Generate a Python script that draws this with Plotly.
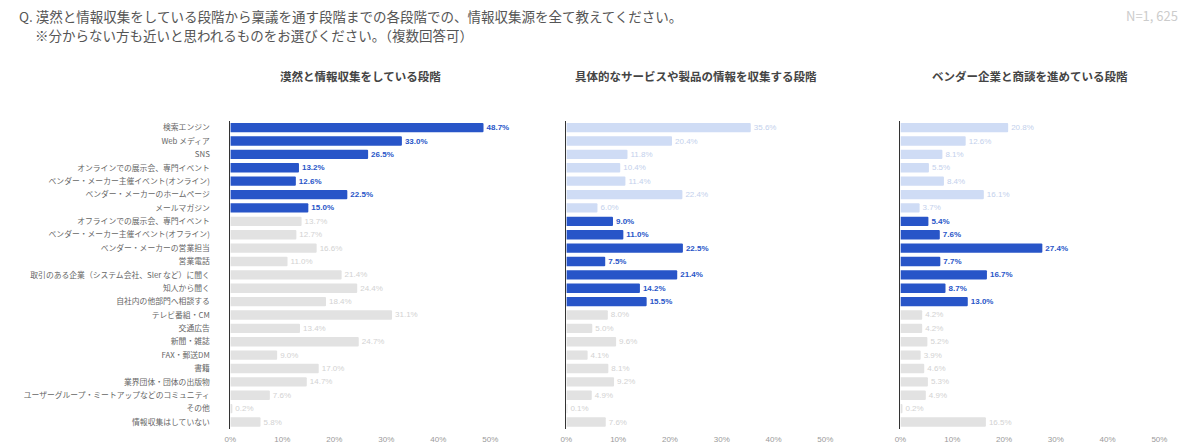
import plotly.graph_objects as go

categories = [
    "検索エンジン", "Web メディア", "SNS", "オンラインでの展示会、専門イベント",
    "ベンダー・メーカー主催イベント(オンライン)", "ベンダー・メーカーのホームページ", "メールマガジン",
    "オフラインでの展示会、専門イベント", "ベンダー・メーカー主催イベント(オフライン)",
    "ベンダー・メーカーの営業担当", "営業電話", "取引のある企業（システム会社、Sler など）に聞く",
    "知人から聞く", "自社内の他部門へ相談する", "テレビ番組・CM", "交通広告", "新聞・雑誌",
    "FAX・郵送DM", "書籍", "業界団体・団体の出版物", "ユーザーグループ・ミートアップなどのコミュニティ",
    "その他", "情報収集はしていない",
]
groups = [0]*7 + [1]*7 + [2]*9

stage_titles = [
    "漠然と情報収集をしている段階",
    "具体的なサービスや製品の情報を収集する段階",
    "ベンダー企業と商談を進めている段階",
]
stage1 = [48.7, 33.0, 26.5, 13.2, 12.6, 22.5, 15.0, 13.7, 12.7, 16.6, 11.0, 21.4,
          24.4, 18.4, 31.1, 13.4, 24.7, 9.0, 17.0, 14.7, 7.6, 0.2, 5.8]
stage2 = [35.6, 20.4, 11.8, 10.4, 11.4, 22.4, 6.0, 9.0, 11.0, 22.5, 7.5, 21.4,
          14.2, 15.5, 8.0, 5.0, 9.6, 4.1, 8.1, 9.2, 4.9, 0.1, 7.6]
stage3 = [20.8, 12.6, 8.1, 5.5, 8.4, 16.1, 3.7, 5.4, 7.6, 27.4, 7.7, 16.7,
          8.7, 13.0, 4.2, 4.2, 5.2, 3.9, 4.6, 5.3, 4.9, 0.2, 16.5]
highlight_group = [0, 1, 1]
tint_groups = [[], [0], [0]]
x_ticks = [0, 10, 20, 30, 40, 50]
x_ticklabels = ["0%", "10%", "20%", "30%", "40%", "50%"]

BLUE = "#2855c8"
TINT = "#cfdcf5"
GRAY = "#e2e2e2"
TINT_TXT = "#c3d0ec"
GRAY_TXT = "#d2d2d2"
FONT = "Noto Sans CJK JP"

W = 1200
domains = [(227/W, 490/W), (567/W, 829/W), (905/W, 1167/W)]
series = [stage1, stage2, stage3]

fig = go.Figure()
for i, vals in enumerate(series):
    bar_colors, txt_colors, texts = [], [], []
    for v, g in zip(vals, groups):
        if g == highlight_group[i]:
            bar_colors.append(BLUE); txt_colors.append(BLUE)
            texts.append(f"<b>{v:.1f}%</b>")
        elif g in tint_groups[i]:
            bar_colors.append(TINT); txt_colors.append(TINT_TXT)
            texts.append(f"{v:.1f}%")
        else:
            bar_colors.append(GRAY); txt_colors.append(GRAY_TXT)
            texts.append(f"{v:.1f}%")
    ax = "" if i == 0 else str(i + 1)
    fig.add_trace(go.Bar(
        x=vals, y=categories, orientation="h",
        marker=dict(color=bar_colors, line=dict(width=0)),
        text=texts, textposition="outside", cliponaxis=False,
        textfont=dict(color=txt_colors, size=8, family="Liberation Sans, Arial"),
        xaxis="x" + ax, yaxis="y" + ax, showlegend=False, hoverinfo="skip",
    ))
    xa = dict(domain=list(domains[i]), range=[0, 50], tickvals=x_ticks,
              ticktext=x_ticklabels, showgrid=False, zeroline=False,
              showline=False, ticks="", tickfont=dict(size=8, color="#9a9a9a",
              family="Liberation Sans, Arial"), anchor="y" + ax, fixedrange=True,
              ticklabelstandoff=4)
    ya = dict(domain=[0.043, 0.73], autorange="reversed", showgrid=False,
              showline=True, linecolor="#333333", linewidth=1,
              ticks="", showticklabels=(i == 0), anchor="x" + ax,
              tickfont=dict(size=7.8, color="#666666", family=FONT),
              ticklabelstandoff=18 if i == 0 else 0, fixedrange=True)
    fig.layout["xaxis" + ax] = xa
    fig.layout["yaxis" + ax] = ya
    fig.add_annotation(text=f"<b>{stage_titles[i]}</b>", xref="paper", yref="paper",
                       x=(domains[i][0] + domains[i][1]) / 2, y=1 - 76/448,
                       xanchor="center", yanchor="middle", showarrow=False,
                       font=dict(size=11.5, color="#444444", family=FONT))

fig.add_annotation(text="Q. 漠然と情報収集をしている段階から稟議を通す段階までの各段階での、情報収集源を全て教えてください。",
                   xref="paper", yref="paper", x=11/W, y=1 - 16/448,
                   xanchor="left", yanchor="middle", showarrow=False,
                   font=dict(size=13.5, color="#555555", family=FONT))
fig.add_annotation(text="※分からない方も近いと思われるものをお選びください。（複数回答可）",
                   xref="paper", yref="paper", x=27/W, y=1 - 35/448,
                   xanchor="left", yanchor="middle", showarrow=False,
                   font=dict(size=13.5, color="#555555", family=FONT))
fig.add_annotation(text="N=1, 625", xref="paper", yref="paper", x=1188/W, y=1 - 16/448,
                   xanchor="right", yanchor="middle", showarrow=False,
                   font=dict(size=13, color="#cccccc", family=FONT))

fig.update_layout(width=W, height=448, margin=dict(l=0, r=0, t=0, b=0),
                  paper_bgcolor="white", plot_bgcolor="white", bargap=0.3,
                  barcornerradius=1, uniformtext=dict(minsize=1))
fig.write_html("out.html", config={"displayModeBar": False},
               post_script="document.body.style.margin='0';document.body.style.overflow='hidden';")
